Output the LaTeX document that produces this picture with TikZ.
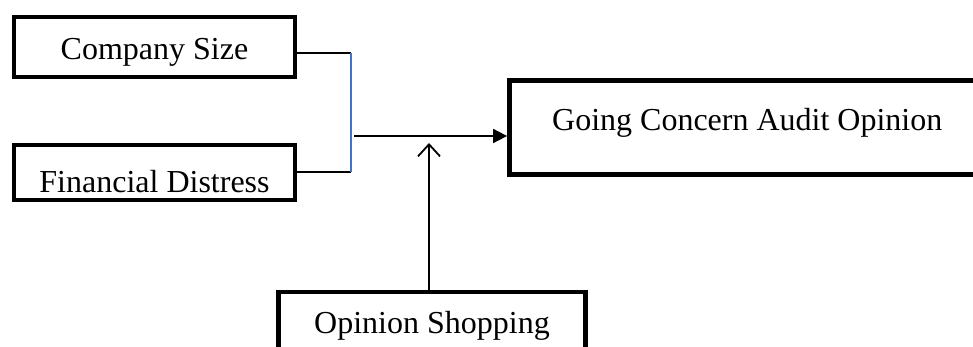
\documentclass[tikz,border=0pt]{standalone}
\usepackage{fontspec}
\setmainfont{Liberation Serif}
\usetikzlibrary{arrows.meta}
\definecolor{linkblue}{HTML}{4472C4}
\begin{document}
\begin{tikzpicture}[x=1pt,y=-1pt,
  box/.style={draw=black, line width=4.8pt, rectangle, inner sep=0pt,
    font=\fontsize{32}{38}\selectfont},
  conn/.style={draw=black, line width=1.8pt},
  filledtip/.style={-{Triangle[length=14pt,width=14pt]}},
  opentip/.style={-{Straight Barb[length=12pt,width=22pt,line width=1.8pt]}}]
\useasboundingbox (0,0) rectangle (973,347);
\clip (0,0) rectangle (973,347);
\node[box, minimum width=281pt, minimum height=60pt, text height=26pt, text depth=0pt] (cs) at (154.5,47) {Company Size};
\node[box, minimum width=281pt, minimum height=55pt, text height=41pt, text depth=0pt] (fd) at (154.5,172.5) {Financial Distress};
\node[box, minimum width=475.5pt, minimum height=94pt, text height=20pt, text depth=13pt] (gc) at (747.25,127.5) {Going Concern Audit Opinion};
\node[box, minimum width=307.5pt, minimum height=60pt, text height=22pt, text depth=0pt] (os) at (432,322) {Opinion Shopping};
\coordinate (j1) at (351,53);
\coordinate (j2) at (351,172);
\coordinate (h1) at (354,136);
\coordinate (up) at (429,143);
\draw[conn] (cs.east |- j1) -- (j1);
\draw[conn] (fd.east |- j2) -- (j2);
\draw[line width=1.8pt, draw=linkblue] (j1) -- (j2);
\draw[conn, filledtip] (h1) -- (gc.west |- h1);
\draw[conn, opentip] (os.north -| up) -- (up);
\end{tikzpicture}
\end{document}
